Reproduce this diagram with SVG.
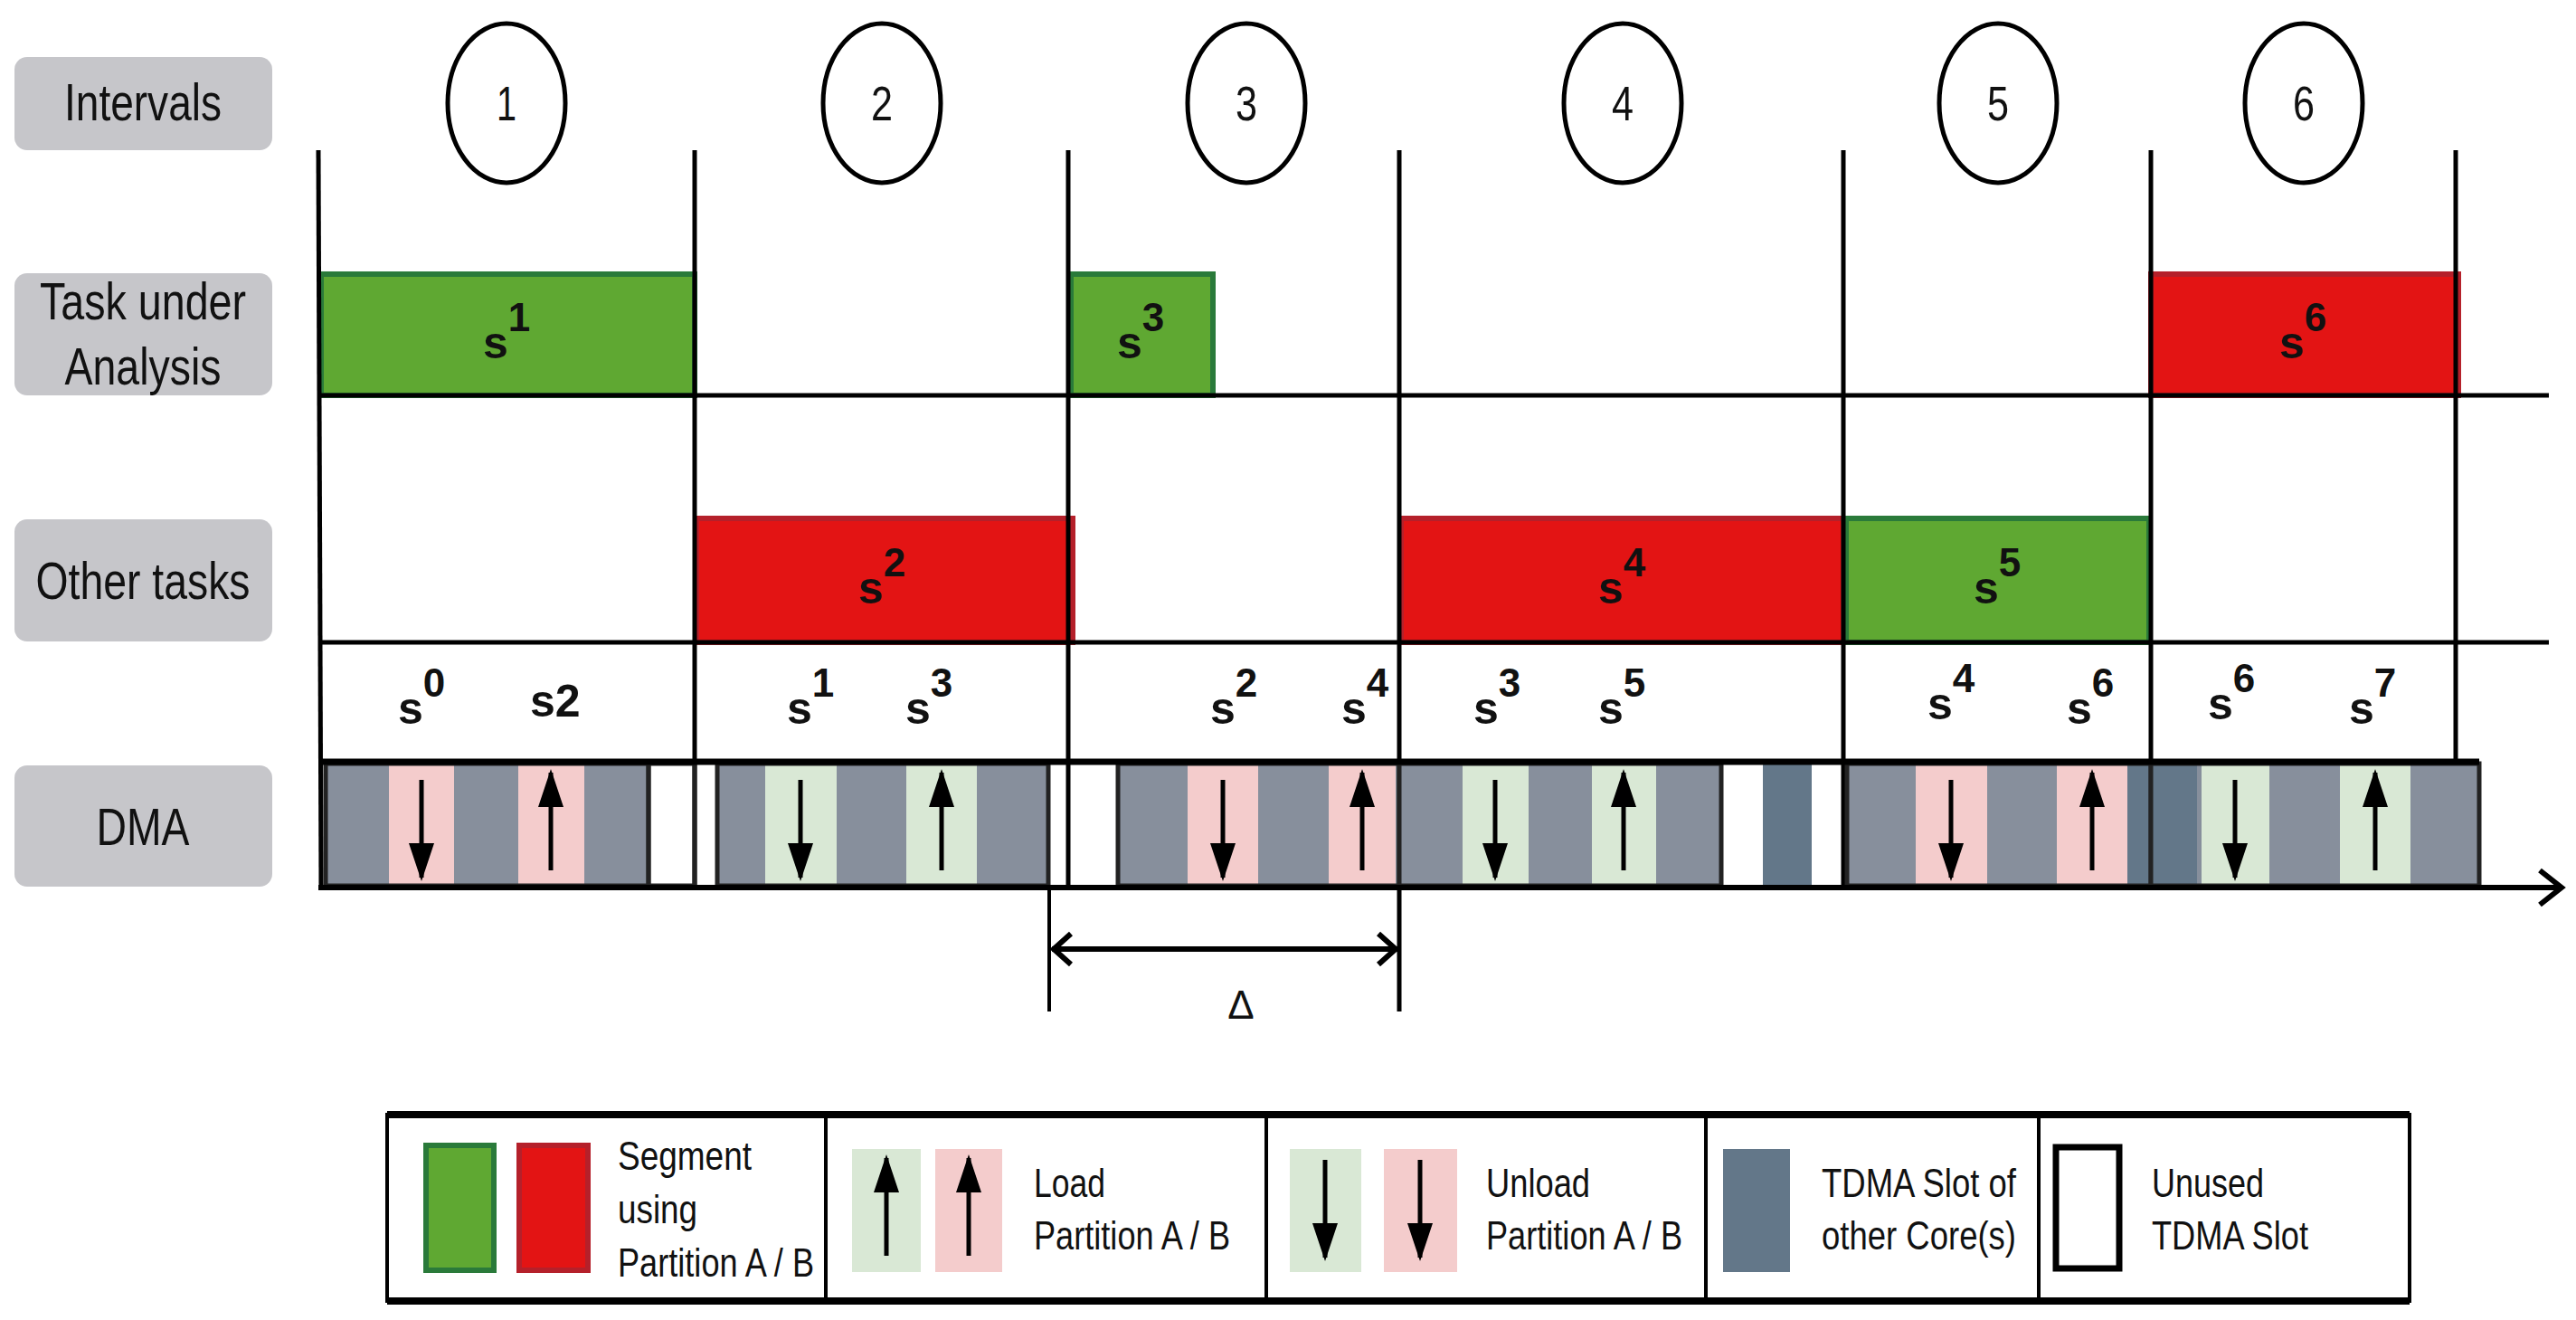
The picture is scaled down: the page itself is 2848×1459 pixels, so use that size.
<svg xmlns="http://www.w3.org/2000/svg" width="2848" height="1459" viewBox="0 0 2848 1459">
<style>
.hdr{fill:#c6c6ca}
.ht{font-family:"Liberation Sans",sans-serif;font-size:58px;fill:#111;text-anchor:middle}
.num{font-family:"Liberation Sans",sans-serif;font-size:54px;fill:#111;text-anchor:middle}
.sl{font-family:"Liberation Sans",sans-serif;font-size:50px;font-weight:bold;fill:#111}
.sup{font-size:44px}
.ln{stroke:#000;stroke-width:5;fill:none}
.g{fill:#5fa832;stroke:#2a7a3a;stroke-width:6}
.r{fill:#e31414;stroke:#b5202a;stroke-width:6}
.gray{fill:#878f9c}
.pk{fill:#f4cccc}
.lg{fill:#d9e8d5}
.dk{fill:#637789}
.blk{fill:none;stroke:#222;stroke-width:5}
.lt{font-family:"Liberation Sans",sans-serif;font-size:44px;fill:#111}
</style>
<defs>
<path id="dn" d="M0,-50 L0,58" stroke="#000" stroke-width="5"/>
<polygon id="dnh" points="-14,20 14,20 0,62" fill="#000"/>
</defs>
<g id="headers">
<g id="h-intervals"><rect class="hdr" x="16" y="63" width="285" height="103" rx="14"/><text class="ht" x="158" y="133" textLength="174" lengthAdjust="spacingAndGlyphs">Intervals</text></g>
<g id="h-task"><rect class="hdr" x="16" y="302" width="285" height="135" rx="14"/><text class="ht" x="158" y="353" textLength="228" lengthAdjust="spacingAndGlyphs">Task under</text><text class="ht" x="158" y="425" textLength="173" lengthAdjust="spacingAndGlyphs">Analysis</text></g>
<g id="h-other"><rect class="hdr" x="16" y="574" width="285" height="135" rx="14"/><text class="ht" x="158" y="662" textLength="237" lengthAdjust="spacingAndGlyphs">Other tasks</text></g>
<g id="h-dma"><rect class="hdr" x="16" y="846" width="285" height="134" rx="14"/><text class="ht" x="158" y="934" textLength="103" lengthAdjust="spacingAndGlyphs">DMA</text></g>
</g>
<g id="intervals" fill="#fff" stroke="#000" stroke-width="5">
<g id="i1"><ellipse cx="560" cy="114" rx="65" ry="88"/><text class="num" stroke="none" x="560" y="133" textLength="22" lengthAdjust="spacingAndGlyphs">1</text></g>
<g id="i2"><ellipse cx="975" cy="114" rx="65" ry="88"/><text class="num" stroke="none" x="975" y="133" textLength="24" lengthAdjust="spacingAndGlyphs">2</text></g>
<g id="i3"><ellipse cx="1378" cy="114" rx="65" ry="88"/><text class="num" stroke="none" x="1378" y="133" textLength="24" lengthAdjust="spacingAndGlyphs">3</text></g>
<g id="i4"><ellipse cx="1794" cy="114" rx="65" ry="88"/><text class="num" stroke="none" x="1794" y="133" textLength="24" lengthAdjust="spacingAndGlyphs">4</text></g>
<g id="i5"><ellipse cx="2209" cy="114" rx="65" ry="88"/><text class="num" stroke="none" x="2209" y="133" textLength="24" lengthAdjust="spacingAndGlyphs">5</text></g>
<g id="i6"><ellipse cx="2547" cy="114" rx="65" ry="88"/><text class="num" stroke="none" x="2547" y="133" textLength="24" lengthAdjust="spacingAndGlyphs">6</text></g>
</g>
<g id="segments">
<g id="seg-s1"><rect class="g" x="355" y="303" width="413" height="134"/><text class="sl" x="534" y="396">s<tspan class="sup" dy="-30">1</tspan></text></g>
<g id="seg-s3"><rect class="g" x="1184" y="303" width="157" height="134"/><text class="sl" x="1235" y="396">s<tspan class="sup" dy="-30">3</tspan></text></g>
<g id="seg-s6"><rect class="r" x="2378" y="303" width="340" height="134"/><text class="sl" x="2520" y="396">s<tspan class="sup" dy="-30">6</tspan></text></g>
<g id="seg-s2"><rect class="r" x="770" y="573" width="416" height="137"/><text class="sl" x="949" y="667">s<tspan class="sup" dy="-30">2</tspan></text></g>
<g id="seg-s4"><rect class="r" x="1549" y="573" width="489" height="137"/><text class="sl" x="1767" y="667">s<tspan class="sup" dy="-30">4</tspan></text></g>
<g id="seg-s5"><rect class="g" x="2041" y="573" width="335" height="137"/><text class="sl" x="2182" y="667">s<tspan class="sup" dy="-30">5</tspan></text></g>
</g>
<g id="grid">
<line class="ln" x1="352" y1="166" x2="355" y2="981"/>
<line class="ln" x1="768" y1="166" x2="768" y2="981"/>
<line class="ln" x1="1181" y1="166" x2="1181" y2="981"/>
<line class="ln" x1="1547" y1="166" x2="1547" y2="1118"/>
<line class="ln" x1="2038" y1="166" x2="2038" y2="981"/>
<line class="ln" x1="2378" y1="166" x2="2378" y2="981"/>
<line class="ln" x1="2715" y1="166" x2="2715" y2="981"/>
<line class="ln" x1="352" y1="437" x2="2818" y2="437"/>
<line class="ln" x1="352" y1="710" x2="2818" y2="710"/>
</g>
<g id="slabels">
<text class="sl" x="440" y="800">s<tspan class="sup" dy="-30">0</tspan></text>
<text class="sl" x="586" y="792">s2</text>
<text class="sl" x="870" y="800">s<tspan class="sup" dy="-30">1</tspan></text>
<text class="sl" x="1001" y="800">s<tspan class="sup" dy="-30">3</tspan></text>
<text class="sl" x="1338" y="800">s<tspan class="sup" dy="-30">2</tspan></text>
<text class="sl" x="1483" y="800">s<tspan class="sup" dy="-30">4</tspan></text>
<text class="sl" x="1629" y="800">s<tspan class="sup" dy="-30">3</tspan></text>
<text class="sl" x="1767" y="800">s<tspan class="sup" dy="-30">5</tspan></text>
<text class="sl" x="2131" y="795">s<tspan class="sup" dy="-30">4</tspan></text>
<text class="sl" x="2285" y="800">s<tspan class="sup" dy="-30">6</tspan></text>
<text class="sl" x="2441" y="795">s<tspan class="sup" dy="-30">6</tspan></text>
<text class="sl" x="2597" y="800">s<tspan class="sup" dy="-30">7</tspan></text>
</g>
<g id="dma">
<rect class="gray" x="360" y="844" width="357" height="135"/>
<rect class="pk" x="430" y="844" width="72" height="135"/><rect class="pk" x="573" y="844" width="73" height="135"/>
<rect class="blk" x="360" y="844" width="357" height="135"/>
<rect class="blk" x="717" y="844" width="51" height="135"/>
<rect class="gray" x="793" y="844" width="366" height="135"/>
<rect class="lg" x="846" y="844" width="79" height="135"/><rect class="lg" x="1002" y="844" width="78" height="135"/>
<rect class="blk" x="793" y="844" width="366" height="135"/>
<rect class="gray" x="1236" y="844" width="311" height="135"/>
<rect class="pk" x="1313" y="844" width="78" height="135"/><rect class="pk" x="1469" y="844" width="74" height="135"/>
<rect class="blk" x="1236" y="844" width="311" height="135"/>
<rect class="gray" x="1547" y="844" width="356" height="135"/>
<rect class="lg" x="1617" y="844" width="73" height="135"/><rect class="lg" x="1760" y="844" width="71" height="135"/>
<rect class="blk" x="1547" y="844" width="356" height="135"/>
<rect class="dk" x="1949" y="844" width="54" height="135"/>
<rect class="gray" x="2042" y="844" width="336" height="135"/>
<rect class="pk" x="2118" y="844" width="79" height="135"/><rect class="pk" x="2274" y="844" width="78" height="135"/>
<rect class="dk" x="2352" y="844" width="26" height="135"/>
<rect class="blk" x="2042" y="844" width="336" height="135"/>
<rect class="gray" x="2378" y="844" width="363" height="135"/>
<rect class="dk" x="2378" y="844" width="51" height="135"/>
<rect class="lg" x="2434" y="844" width="75" height="135"/><rect class="lg" x="2587" y="844" width="78" height="135"/>
<rect class="blk" x="2378" y="844" width="363" height="135"/>
<line x1="352" y1="842" x2="2741" y2="842" stroke="#000" stroke-width="7"/>
<g id="arrows">
<g transform="translate(466,912)"><use href="#dn"/><use href="#dnh"/></g>
<g transform="translate(609,912) rotate(180)"><use href="#dn"/><use href="#dnh"/></g>
<g transform="translate(885,912)"><use href="#dn"/><use href="#dnh"/></g>
<g transform="translate(1041,912) rotate(180)"><use href="#dn"/><use href="#dnh"/></g>
<g transform="translate(1352,912)"><use href="#dn"/><use href="#dnh"/></g>
<g transform="translate(1506,912) rotate(180)"><use href="#dn"/><use href="#dnh"/></g>
<g transform="translate(1653,912)"><use href="#dn"/><use href="#dnh"/></g>
<g transform="translate(1795,912) rotate(180)"><use href="#dn"/><use href="#dnh"/></g>
<g transform="translate(2157,912)"><use href="#dn"/><use href="#dnh"/></g>
<g transform="translate(2313,912) rotate(180)"><use href="#dn"/><use href="#dnh"/></g>
<g transform="translate(2471,912)"><use href="#dn"/><use href="#dnh"/></g>
<g transform="translate(2626,912) rotate(180)"><use href="#dn"/><use href="#dnh"/></g>
</g>
</g>
<g id="connectors" fill="none" stroke="#000" stroke-width="6">
<line x1="352" y1="981" x2="2832" y2="981"/>
<polyline points="2808,962 2832,981 2808,1000"/>
<line x1="1160" y1="981" x2="1160" y2="1118" stroke-width="4"/>
<line x1="1163" y1="1049" x2="1545" y2="1049"/>
<polyline points="1184,1032 1165,1049 1184,1066"/>
<polyline points="1524,1032 1543,1049 1524,1066"/>
</g>
<text x="1372" y="1126" font-family="'Liberation Sans',sans-serif" font-size="44" text-anchor="middle" fill="#111">Δ</text>
<g id="legend">
<rect x="428" y="1232" width="2236" height="206" fill="#fff" stroke="#000" stroke-width="4"/>
<line x1="428" y1="1232" x2="2664" y2="1232" stroke="#000" stroke-width="8"/>
<line x1="428" y1="1438" x2="2664" y2="1438" stroke="#000" stroke-width="8"/>
<line x1="913" y1="1232" x2="913" y2="1438" stroke="#000" stroke-width="4"/>
<line x1="1400" y1="1232" x2="1400" y2="1438" stroke="#000" stroke-width="4"/>
<line x1="1886" y1="1232" x2="1886" y2="1438" stroke="#000" stroke-width="4"/>
<line x1="2254" y1="1232" x2="2254" y2="1438" stroke="#000" stroke-width="4"/>
<g id="lg-seg"><rect class="g" x="471" y="1266" width="75" height="138"/><rect class="r" x="574" y="1266" width="76" height="138"/>
<text class="lt" x="683" y="1293" textLength="148" lengthAdjust="spacingAndGlyphs">Segment</text><text class="lt" x="683" y="1352" textLength="88" lengthAdjust="spacingAndGlyphs">using</text><text class="lt" x="683" y="1411" textLength="217" lengthAdjust="spacingAndGlyphs">Partition A / B</text></g>
<g id="lg-load"><rect class="lg" x="942" y="1270" width="76" height="136"/><rect class="pk" x="1034" y="1270" width="74" height="136"/>
<g transform="translate(980,1338) rotate(180)"><use href="#dn"/><use href="#dnh"/></g>
<g transform="translate(1071,1338) rotate(180)"><use href="#dn"/><use href="#dnh"/></g>
<text class="lt" x="1143" y="1323" textLength="79" lengthAdjust="spacingAndGlyphs">Load</text><text class="lt" x="1143" y="1381" textLength="217" lengthAdjust="spacingAndGlyphs">Partition A / B</text></g>
<g id="lg-unload"><rect class="lg" x="1426" y="1270" width="79" height="136"/><rect class="pk" x="1530" y="1270" width="81" height="136"/>
<g transform="translate(1465,1332)"><use href="#dn"/><use href="#dnh"/></g>
<g transform="translate(1570,1332)"><use href="#dn"/><use href="#dnh"/></g>
<text class="lt" x="1643" y="1323" textLength="115" lengthAdjust="spacingAndGlyphs">Unload</text><text class="lt" x="1643" y="1381" textLength="217" lengthAdjust="spacingAndGlyphs">Partition A / B</text></g>
<g id="lg-tdma"><rect class="dk" x="1905" y="1270" width="74" height="136"/>
<text class="lt" x="2014" y="1323" textLength="215" lengthAdjust="spacingAndGlyphs">TDMA Slot of</text><text class="lt" x="2014" y="1381" textLength="215" lengthAdjust="spacingAndGlyphs">other Core(s)</text></g>
<g id="lg-unused"><rect x="2273" y="1268" width="70" height="134" fill="#fff" stroke="#000" stroke-width="7"/>
<text class="lt" x="2379" y="1323" textLength="124" lengthAdjust="spacingAndGlyphs">Unused</text><text class="lt" x="2379" y="1381" textLength="173" lengthAdjust="spacingAndGlyphs">TDMA Slot</text></g>
</g>
</svg>
